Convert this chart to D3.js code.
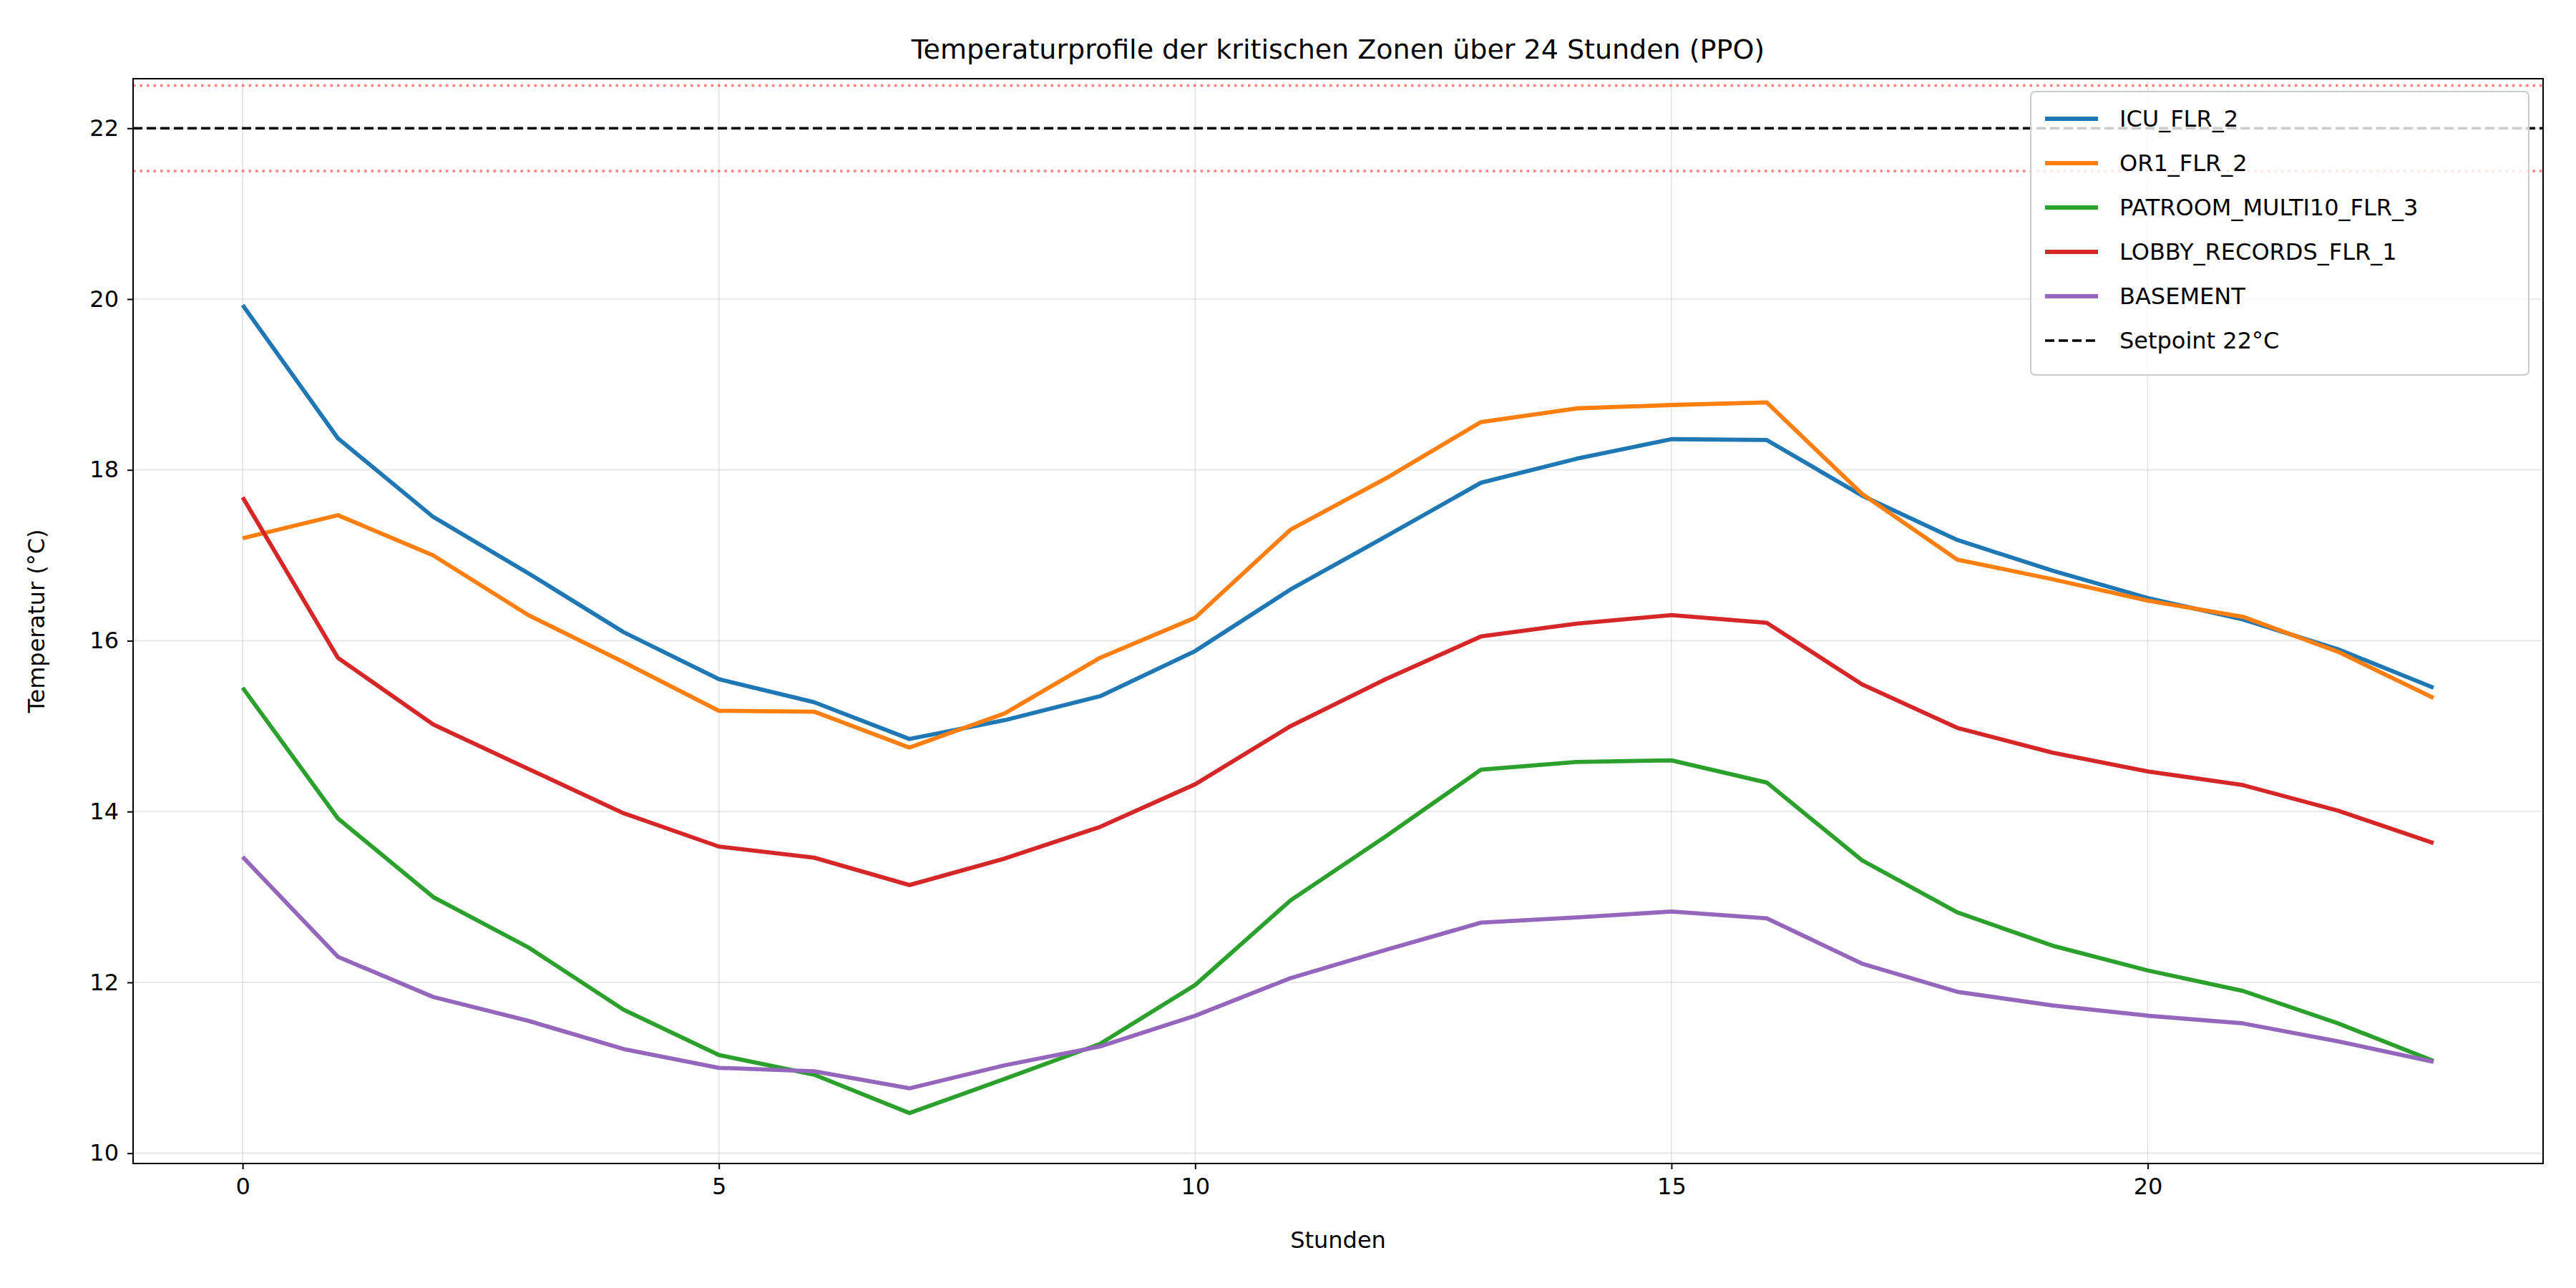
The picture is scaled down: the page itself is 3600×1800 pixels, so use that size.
<!DOCTYPE html>
<html><head><meta charset="utf-8">
<script src="https://cdn.jsdelivr.net/npm/d3@7"></script>
<style>body{margin:0;background:#fff}text{font-family:"DejaVu Sans",sans-serif}</style>
</head><body><svg id="chart" width="3600" height="1800"></svg>
<script>
var hours = d3.range(24);
var icu = [19.93,18.37,17.45,16.79,16.1,15.55,15.28,14.85,15.07,15.35,15.88,16.6,17.22,17.85,18.13,18.36,18.35,17.7,17.18,16.82,16.5,16.25,15.9,15.45];
var or1 = [17.2,17.47,17.0,16.3,15.75,15.18,15.17,14.75,15.15,15.8,16.27,17.3,17.9,18.56,18.72,18.76,18.79,17.72,16.95,16.72,16.47,16.28,15.87,15.33];
var patroom = [15.45,13.92,13.0,12.41,11.68,11.15,10.92,10.47,10.87,11.28,11.97,12.96,13.71,14.49,14.58,14.6,14.34,13.43,12.82,12.43,12.14,11.9,11.52,11.08];
var lobby = [17.68,15.8,15.02,14.5,13.98,13.59,13.46,13.14,13.45,13.82,14.32,15.0,15.55,16.05,16.2,16.3,16.21,15.49,14.98,14.69,14.47,14.31,14.01,13.63];
var basement = [13.47,12.3,11.83,11.55,11.22,11.0,10.96,10.76,11.03,11.25,11.61,12.05,12.38,12.7,12.76,12.83,12.75,12.22,11.89,11.73,11.61,11.52,11.31,11.07];
var seriesNames = ["ICU_FLR_2","OR1_FLR_2","PATROOM_MULTI10_FLR_3","LOBBY_RECORDS_FLR_1","BASEMENT"];
var seriesColors = ["#1f77b4","#ff7f0e","#2ca02c","#d62728","#9467bd"];
var series = [icu, or1, patroom, lobby, basement];
var xTicks = [0,5,10,15,20];
var yTicks = [10,12,14,16,18,20,22];
var setpoint = 22, band = [21.5, 22.5];

var svg = d3.select("#chart");
var L = 186, R = 3554, T = 110, B = 1626;
var x = d3.scaleLinear().domain([-1.15, 24.15]).range([L, R]);
var y = d3.scaleLinear().domain([9.88, 22.58]).range([B, T]);

// grid
svg.append("g").selectAll("line").data(xTicks).join("line")
  .attr("x1", d => x(d)).attr("x2", d => x(d)).attr("y1", T).attr("y2", B)
  .attr("stroke", "#b0b0b0").attr("stroke-width", 1.8).attr("opacity", 0.3);
svg.append("g").selectAll("line").data(yTicks).join("line")
  .attr("y1", d => y(d)).attr("y2", d => y(d)).attr("x1", L).attr("x2", R)
  .attr("stroke", "#b0b0b0").attr("stroke-width", 1.8).attr("opacity", 0.3);

// band + setpoint
svg.append("g").selectAll("line").data(band).join("line")
  .attr("x1", L).attr("x2", R).attr("y1", d => y(d)).attr("y2", d => y(d))
  .attr("stroke", "#ff0000").attr("stroke-opacity", 0.5).attr("stroke-width", 3.5).attr("stroke-dasharray", "3.5,6");

var line = d3.line().x((d, i) => x(hours[i])).y(d => y(d));
series.forEach(function (s, k) {
  svg.append("path").datum(s).attr("d", line).attr("fill", "none")
    .attr("stroke", seriesColors[k]).attr("stroke-width", 5.8).attr("stroke-linejoin", "round");
});
svg.append("line").attr("x1", L).attr("x2", R).attr("y1", y(setpoint)).attr("y2", y(setpoint))
  .attr("stroke", "#000").attr("stroke-width", 3.5).attr("stroke-dasharray", "13,6");

// axes
var xa = svg.append("g").attr("transform", "translate(0," + B + ")")
  .call(d3.axisBottom(x).tickValues(xTicks).tickSize(8).tickPadding(12));
var ya = svg.append("g").attr("transform", "translate(" + L + ",0)")
  .call(d3.axisLeft(y).tickValues(yTicks).tickSize(8).tickPadding(12));
[xa, ya].forEach(function (a) {
  a.select(".domain").remove();
  a.selectAll("line").attr("stroke-width", 2);
  a.selectAll("text").attr("font-size", 32).attr("fill", "#000");
});
svg.append("rect").attr("x", L).attr("y", T).attr("width", R - L).attr("height", B - T)
  .attr("fill", "none").attr("stroke", "#000").attr("stroke-width", 2);

svg.append("text").attr("x", (L + R) / 2).attr("y", 82).attr("text-anchor", "middle").attr("font-size", 38)
  .text("Temperaturprofile der kritischen Zonen über 24 Stunden (PPO)");
svg.append("text").attr("x", (L + R) / 2).attr("y", 1744).attr("text-anchor", "middle").attr("font-size", 32).text("Stunden");
svg.append("text").attr("transform", "translate(62," + (T + B) / 2 + ") rotate(-90)").attr("text-anchor", "middle")
  .attr("font-size", 32).text("Temperatur (°C)");

// legend
var lx = 2838, ly = 128, lw = 696, lh = 396, rowH = 62;
svg.append("rect").attr("x", lx).attr("y", ly).attr("width", lw).attr("height", lh).attr("rx", 6)
  .attr("fill", "#fff").attr("fill-opacity", 0.8).attr("stroke", "#ccc").attr("stroke-width", 2);
var items = seriesNames.map((n, i) => ({name: n, color: seriesColors[i], dash: null}))
  .concat([{name: "Setpoint 22°C", color: "#000", dash: "13,6"}]);
var g = svg.append("g").selectAll("g").data(items).join("g")
  .attr("transform", (d, i) => "translate(" + (lx + 20) + "," + (ly + 38 + i * rowH) + ")");
g.append("line").attr("x1", 0).attr("x2", 74).attr("stroke", d => d.color)
  .attr("stroke-width", d => d.dash ? 3.5 : 5.8).attr("stroke-dasharray", d => d.dash);
g.append("text").attr("x", 104).attr("dy", "0.35em").attr("font-size", 32).text(d => d.name);
</script></body></html>
